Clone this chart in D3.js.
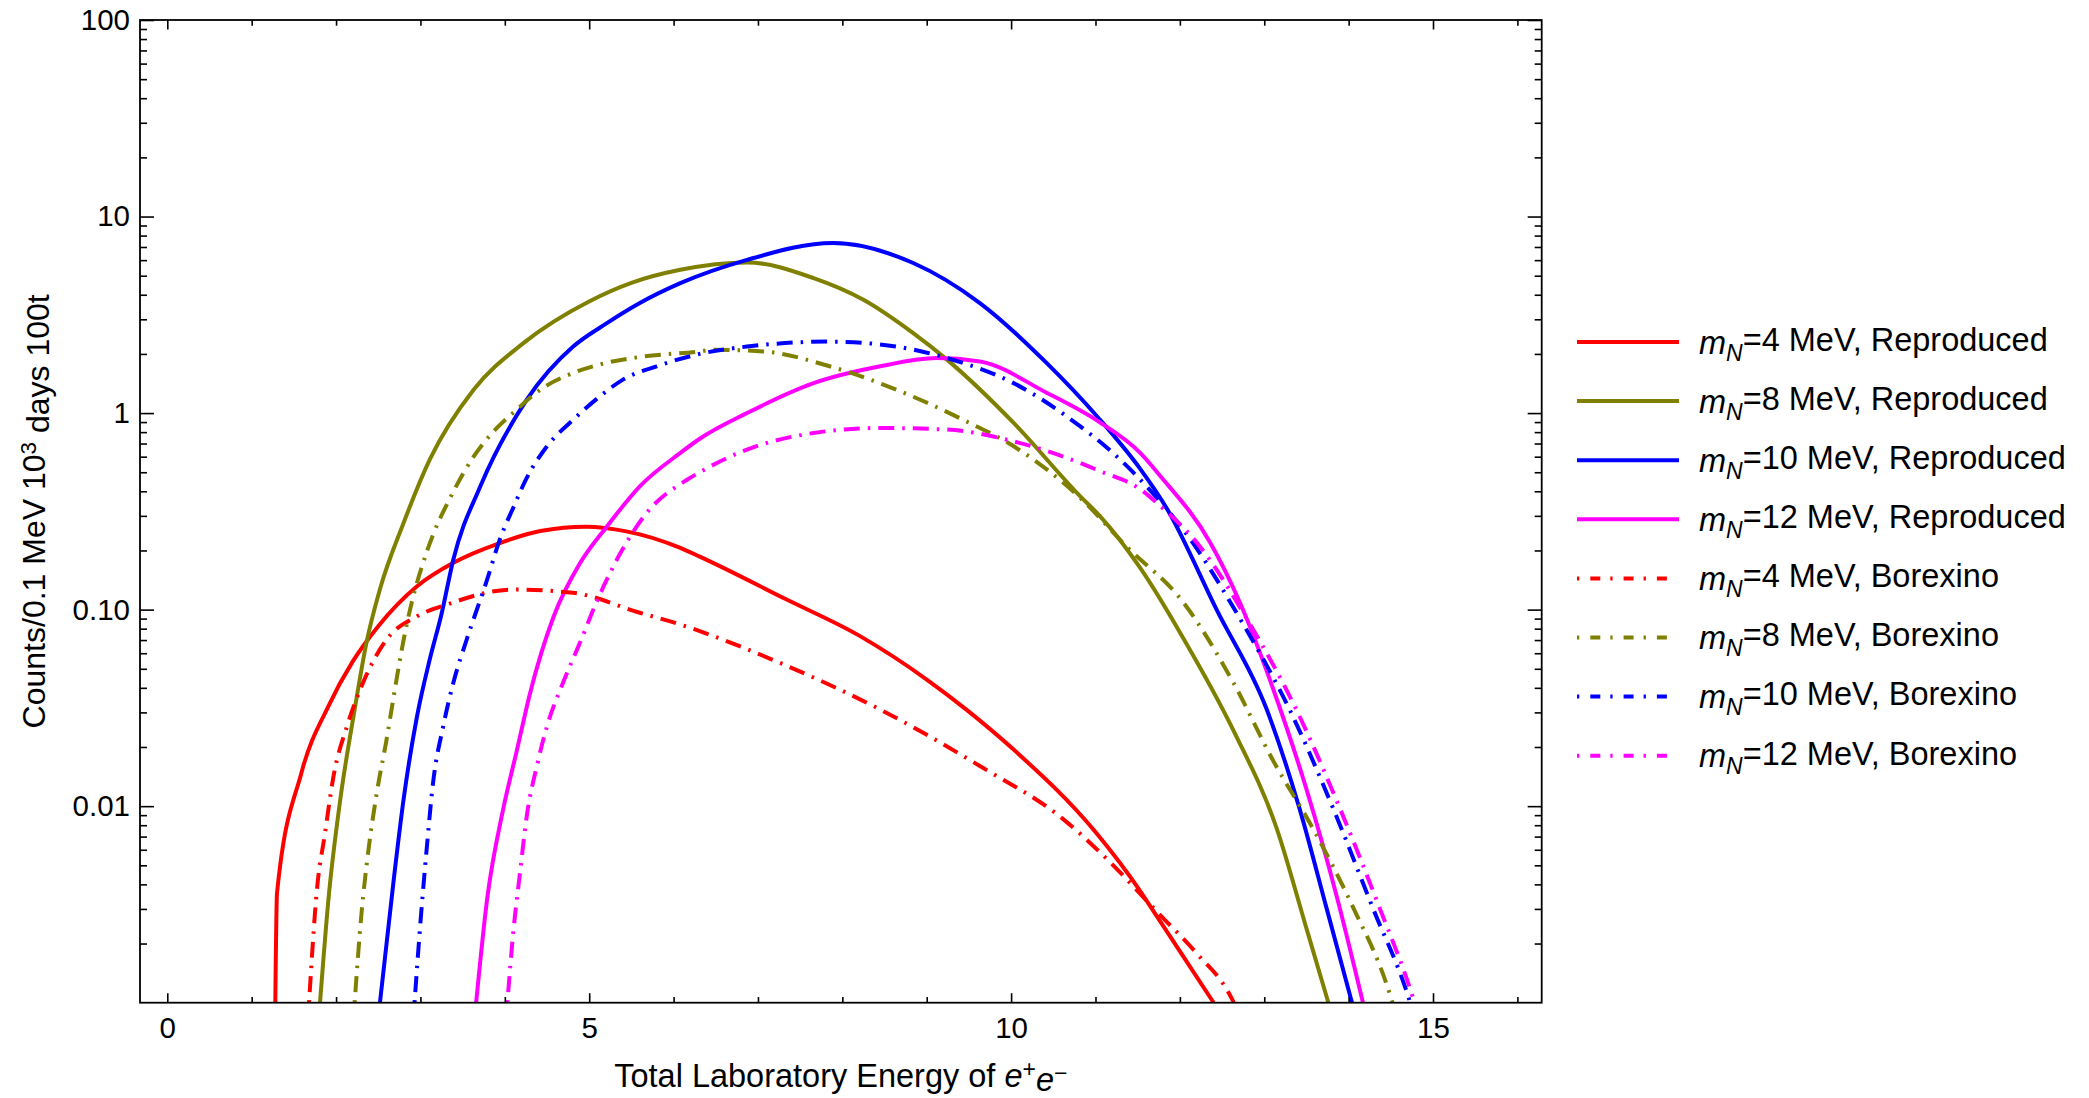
<!DOCTYPE html>
<html>
<head>
<meta charset="utf-8">
<script src="https://cdn.jsdelivr.net/npm/d3@7"></script>
<style>
body { margin: 0; background: #fff; }
text { font-family: "Liberation Sans", Arial, sans-serif; fill: #000; }
</style>
</head>
<body>
<svg id="chart" width="2089" height="1098"></svg>
<script>
// [energy (MeV), counts]
var red4Reproduced = [[1.28,0.001],[1.30,0.0036],[1.59,0.0148],[1.91,0.0323],[2.20,0.0547],[2.50,0.0824],[2.96,0.1315],[3.39,0.173],[3.94,0.218],[4.42,0.251],[4.97,0.264],[5.44,0.25],[6.08,0.206],[6.31,0.186],[7.34,0.1125],[8.21,0.0733],[9.0,0.0441],[9.47,0.031],[10.03,0.0194],[11.01,0.0073],[11.53,0.0037],[11.73,0.00274],[12.04,0.00172],[12.40,0.001]];
var olive8Reproduced = [[1.81,0.001],[1.91,0.00336],[2.05,0.0108],[2.22,0.031],[2.36,0.0678],[2.52,0.127],[2.80,0.276],[3.11,0.579],[3.63,1.315],[4.22,2.27],[5.01,3.72],[5.50,4.6],[6.08,5.36],[6.87,5.84],[7.66,4.86],[8.25,3.77],[8.84,2.55],[9.24,1.87],[10.03,0.891],[10.82,0.377],[11.05,0.30],[11.53,0.163],[12.04,0.0716],[12.63,0.0245],[13.15,0.00765],[13.50,0.00239],[13.76,0.001]];
var blue10Reproduced = [[2.52,0.001],[2.68,0.0041],[2.80,0.0108],[2.96,0.0287],[3.11,0.0557],[3.25,0.095],[3.39,0.18],[3.71,0.424],[4.26,1.17],[4.81,2.18],[5.20,2.85],[5.60,3.63],[6.08,4.58],[6.87,6.02],[7.89,7.33],[8.84,5.8],[9.63,3.63],[10.42,1.80],[11.03,0.95],[11.53,0.52],[11.84,0.33],[12.44,0.099],[13.03,0.031],[13.42,0.00966],[13.74,0.00301],[14.04,0.001]];
var magenta12Reproduced = [[3.66,0.001],[3.79,0.00336],[3.98,0.00963],[4.14,0.019],[4.30,0.0377],[4.58,0.0925],[4.89,0.172],[5.21,0.265],[5.60,0.424],[6.08,0.627],[6.31,0.74],[6.87,1.0],[7.66,1.42],[8.45,1.73],[9.12,1.905],[9.63,1.83],[10.42,1.27],[11.03,0.91],[11.53,0.627],[11.76,0.483],[12.36,0.219],[12.71,0.109],[13.11,0.039],[13.50,0.0122],[13.86,0.00346],[14.17,0.001]];
var red4Borexino = [[1.68,0.001],[1.77,0.00363],[1.87,0.00733],[1.97,0.0142],[2.13,0.0255],[2.32,0.0425],[2.60,0.0705],[2.96,0.0925],[3.31,0.106],[4.10,0.1265],[4.81,0.1217],[5.60,0.0964],[6.08,0.084],[6.31,0.0777],[7.26,0.0536],[8.45,0.031],[9.63,0.016],[10.62,0.00857],[11.21,0.0050],[11.73,0.0029],[12.20,0.00178],[12.58,0.00112],[12.64,0.001]];
var olive8Borexino = [[2.22,0.001],[2.30,0.0028],[2.38,0.0058],[2.48,0.0115],[2.60,0.022],[2.70,0.040],[2.80,0.070],[2.90,0.11],[3.07,0.194],[3.39,0.398],[3.63,0.6],[3.86,0.8],[4.14,1.04],[4.42,1.315],[4.81,1.60],[5.20,1.80],[5.60,1.93],[6.31,2.06],[6.47,2.10],[7.06,2.06],[7.85,1.73],[8.64,1.315],[9.43,0.925],[10.03,0.678],[10.82,0.37],[11.37,0.209],[12.04,0.109],[12.63,0.0428],[13.11,0.0169],[13.58,0.00765],[14.06,0.00301],[14.45,0.00124],[14.52,0.001]];
var blue10Borexino = [[2.93,0.001],[3.00,0.00256],[3.07,0.0058],[3.15,0.0132],[3.27,0.0255],[3.39,0.0425],[3.55,0.0708],[3.79,0.142],[3.94,0.227],[4.10,0.33],[4.26,0.468],[4.50,0.678],[4.81,0.925],[5.13,1.22],[5.40,1.48],[5.80,1.73],[6.31,2.0],[6.87,2.18],[7.85,2.31],[8.64,2.18],[9.24,1.905],[10.03,1.42],[10.82,0.855],[11.13,0.67],[11.57,0.44],[12.12,0.229],[12.71,0.0903],[13.30,0.031],[13.82,0.00966],[14.29,0.00301],[14.69,0.00113],[14.73,0.001]];
var magenta12Borexino = [[4.03,0.001],[4.10,0.00228],[4.18,0.00459],[4.26,0.00891],[4.38,0.016],[4.50,0.0255],[4.69,0.0425],[4.89,0.0678],[5.09,0.11],[5.37,0.194],[5.68,0.31],[6.16,0.458],[6.31,0.50],[6.87,0.652],[7.66,0.792],[8.45,0.84],[9.24,0.824],[10.03,0.718],[10.82,0.557],[11.05,0.507],[11.53,0.41],[11.73,0.348],[12.24,0.209],[12.79,0.0903],[13.38,0.031],[13.90,0.00966],[14.37,0.00301],[14.75,0.0011],[14.78,0.001]];

var masses = ["4", "8", "10", "12", "4", "8", "10", "12"];
var sources = ["Reproduced", "Reproduced", "Reproduced", "Reproduced", "Borexino", "Borexino", "Borexino", "Borexino"];

var xTicks = [0, 5, 10, 15];
var xMinorTicks = [1, 2, 3, 4, 6, 7, 8, 9, 11, 12, 13, 14, 16];
var yTicks = [0.01, 0.1, 1, 10, 100];
var yTickLabels = ["0.01", "0.10", "1", "10", "100"];

var plotDash = "2.5,8,16,8";
var legendDash = "2.3,11,10,10";

var series = [
    {data: red4Reproduced, color: "#ff0000", dashed: false},
    {data: olive8Reproduced, color: "#808000", dashed: false},
    {data: blue10Reproduced, color: "#0000ff", dashed: false},
    {data: magenta12Reproduced, color: "#ff00ff", dashed: false},
    {data: red4Borexino, color: "#ff0000", dashed: true},
    {data: olive8Borexino, color: "#808000", dashed: true},
    {data: blue10Borexino, color: "#0000ff", dashed: true},
    {data: magenta12Borexino, color: "#ff00ff", dashed: true}
];

var svg = d3.select("#chart");
var plotL = 140, plotR = 1541.7, plotT = 20, plotB = 1002.7;

var x = d3.scaleLinear().domain([-0.3235, 16.288]).range([plotL, plotR]);
var y = d3.scaleLog().domain([0.001, 100]).range([plotB, plotT]);

// minor y ticks: 2..9 in each decade
var yMinorTicks = [];
[-3, -2, -1, 0, 1].forEach(function(d) {
    for (var k = 2; k <= 9; k++) yMinorTicks.push(k * Math.pow(10, d));
});

svg.append("rect").attr("width", 2089).attr("height", 1098).attr("fill", "#fff");

svg.append("clipPath").attr("id", "plotclip")
    .append("rect").attr("x", plotL).attr("y", plotT)
    .attr("width", plotR - plotL).attr("height", plotB - plotT);

var line = d3.line()
    .x(function(d) { return x(d[0]); })
    .y(function(d) { return y(d[1]); })
    .curve(d3.curveMonotoneX);

var lines = svg.append("g").attr("clip-path", "url(#plotclip)");
series.forEach(function(s) {
    lines.append("path")
        .attr("d", line(s.data))
        .attr("fill", "none")
        .attr("stroke", s.color)
        .attr("stroke-width", 4)
        .attr("stroke-dasharray", s.dashed ? plotDash : null);
});

// frame ticks (all pointing inward)
function tickAxis(axis, tx, ty) {
    var g = svg.append("g").attr("transform", "translate(" + tx + "," + ty + ")").call(axis);
    g.select(".domain").remove();
    g.selectAll(".tick line").attr("stroke", "#000").attr("stroke-width", 1.6);
    return g;
}

tickAxis(d3.axisBottom(x).tickValues(xTicks).tickSize(-9.5).tickPadding(14.5).tickFormat(d3.format("d")), 0, plotB);
tickAxis(d3.axisBottom(x).tickValues(xMinorTicks).tickSize(-5.7).tickFormat(""), 0, plotB);
tickAxis(d3.axisTop(x).tickValues(xTicks).tickSize(-9.5).tickFormat(""), 0, plotT);
tickAxis(d3.axisTop(x).tickValues(xMinorTicks).tickSize(-5.7).tickFormat(""), 0, plotT);

tickAxis(d3.axisLeft(y).tickValues(yTicks).tickSize(-14).tickPadding(10)
    .tickFormat(function(d, i) { return yTickLabels[i]; }), plotL, 0);
tickAxis(d3.axisLeft(y).tickValues(yMinorTicks).tickSize(-7).tickFormat(""), plotL, 0);
tickAxis(d3.axisRight(y).tickValues(yTicks).tickSize(-14).tickFormat(""), plotR, 0);
tickAxis(d3.axisRight(y).tickValues(yMinorTicks).tickSize(-7).tickFormat(""), plotR, 0);

svg.selectAll(".tick text")
    .style("font-family", "'Liberation Sans', Arial, sans-serif")
    .style("font-size", "29.5px")
    .attr("fill", "#000");

svg.append("rect")
    .attr("x", plotL).attr("y", plotT)
    .attr("width", plotR - plotL).attr("height", plotB - plotT)
    .attr("fill", "none").attr("stroke", "#000").attr("stroke-width", 1.8);

// axis titles
var xt = svg.append("text")
    .attr("x", (plotL + plotR) / 2).attr("y", 1087)
    .attr("text-anchor", "middle").style("font-size", "32.5px");
xt.append("tspan").text("Total Laboratory Energy of ");
xt.append("tspan").style("font-style", "italic").text("e");
xt.append("tspan").attr("dy", "-0.42em").style("font-size", "23px").text("+");
xt.append("tspan").attr("dy", "0.42em").style("font-style", "italic").text("e");
xt.append("tspan").attr("dy", "-0.42em").style("font-size", "23px").text("\u2212");

var yt = svg.append("text")
    .attr("transform", "translate(45," + ((plotT + plotB) / 2) + ") rotate(-90)")
    .attr("text-anchor", "middle").style("font-size", "32px");
yt.append("tspan").text("Counts/0.1 MeV 10");
yt.append("tspan").attr("dy", "-0.42em").style("font-size", "22.5px").text("3");
yt.append("tspan").attr("dy", "0.42em").text(" days 100t");

// legend
var legend = svg.append("g");
series.forEach(function(s, i) {
    var ly = 342 + 59.1 * i;
    legend.append("line")
        .attr("x1", 1577).attr("x2", s.dashed ? 1670 : 1679)
        .attr("y1", ly).attr("y2", ly)
        .attr("stroke", s.color).attr("stroke-width", 4)
        .attr("stroke-dasharray", s.dashed ? legendDash : null);
    var t = legend.append("text").attr("x", 1699).attr("y", ly).attr("dy", "0.36em")
        .style("font-size", "32.5px");
    t.append("tspan").style("font-style", "italic").text("m");
    t.append("tspan").attr("dy", "0.3em").style("font-style", "italic").style("font-size", "23px").text("N");
    t.append("tspan").attr("dy", "-0.3em").text("=" + masses[i] + " MeV, " + sources[i]);
});
</script>
</body>
</html>
